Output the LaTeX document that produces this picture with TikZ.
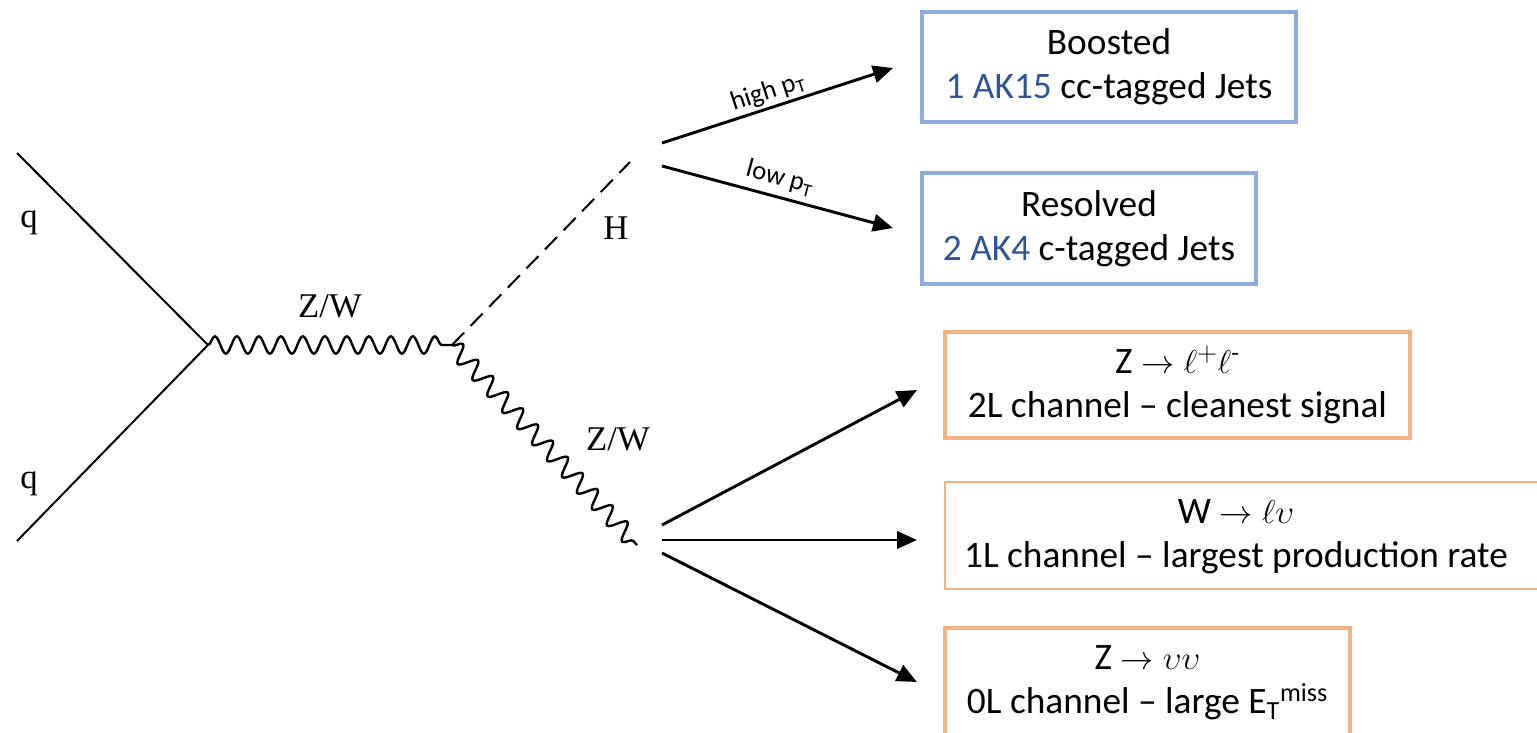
\documentclass[tikz,border=0pt]{standalone}
\usepackage{fontspec}
\setmainfont{Carlito}
\newfontfamily\feynfont{Liberation Serif}
\usetikzlibrary{decorations.pathmorphing,arrows.meta}
\definecolor{boxblue}{HTML}{8FAADC}
\definecolor{textblue}{HTML}{2F5597}
\definecolor{boxorange}{HTML}{F4B183}
\newcommand{\suphyph}{\mbox{\fontsize{19}{20}\selectfont -}}
\begin{document}
\begin{tikzpicture}[x=0.75pt,y=-0.75pt,
  fermion/.style={line width=1.5pt},
  boson/.style={line width=1.8pt, decorate,
    decoration={snake, segment length=16.5pt, amplitude=6.5pt}},
  scalar/.style={line width=1.5pt, dash pattern=on 13pt off 7pt},
  flow/.style={line width=2.2pt, -{Triangle[length=15pt,width=13pt]}},
  chanbox/.style={line width=2.8pt, inner sep=0pt, align=center,
    font=\fontsize{28}{33}\selectfont},
  bluebox/.style={chanbox, draw=boxblue},
  orangebox/.style={chanbox, draw=boxorange},
  chantext/.style={align=center, inner sep=0pt, font=\fontsize{28}{33}\selectfont},
  feyn/.style={inner sep=0pt, font=\feynfont\fontsize{26}{30}\selectfont},
  kin/.style={inner sep=0pt, font=\fontsize{20}{22}\selectfont}]
\useasboundingbox (0,0) rectangle (1537,732);
\clip (0,0) rectangle (1537,732);

% vertices and external legs
\coordinate (qa) at (17,153);
\coordinate (qb) at (17,541);
\coordinate (v1) at (208,345);
\coordinate (v2) at (452,345);
\coordinate (hend) at (630,162);
\coordinate (wend) at (637,545);

\draw[fermion] (qa) -- (v1) -- (qb);
\draw[boson] (v1) -- (v2);
\draw[scalar] (v2) -- (hend);
\draw[boson] (v2) -- (wend);

% particle labels
\node[feyn] (lq1) at (29,223) {q};
\node[feyn] (lq2) at (29,484) {q};
\node[feyn, anchor=base] (lzw1) at (330,317) {Z/W};
\node[feyn, anchor=base] (lh) at (616,239) {H};
\node[feyn, anchor=base] (lzw2) at (618,450) {Z/W};

% Higgs decay categories
\node[bluebox, minimum width=280.5pt, minimum height=82.5pt] (boost) at (1109,67)
  {Boosted\\\textcolor{textblue}{1 AK15} cc-tagged Jets};
\node[bluebox, minimum width=250.5pt, minimum height=83.25pt] (resol) at (1089,228.5)
  {Resolved\\\textcolor{textblue}{2 AK4} c-tagged Jets};

% vector boson decay channels
\node[orangebox, minimum width=348.75pt, minimum height=79.5pt] (two) at (1177.5,385)
  {Z $\rightarrow \ell^{+}\ell^{\suphyph}$\\2L channel -- cleanest signal};
\node[orangebox, line width=1.9pt, minimum width=480pt, minimum height=80.25pt] (one) at (1265,535.5) {};
\node[chantext] (onetext) at (1236,537)
  {W $\rightarrow \ell\upsilon$\\1L channel -- largest production rate};
\node[orangebox, minimum width=303.75pt, minimum height=82.5pt] (zero) at (1147.5,683)
  {Z $\rightarrow \upsilon\upsilon$\\0L channel -- large E\textsubscript{T}\textsuperscript{miss}};

% arrows from the decay vertices
\coordinate (hs1) at (662,143);
\coordinate (hs2) at (662,166);
\coordinate (he1) at (893,68);
\coordinate (he2) at (893,228);
\coordinate (ws1) at (662,525);
\coordinate (ws2) at (662,540);
\coordinate (ws3) at (662,553);
\coordinate (we1) at (917,390);
\coordinate (we2) at (917,540);
\coordinate (we3) at (917,682);

\draw[flow] (hs1) -- (he1);
\draw[flow] (hs2) -- (he2);
\draw[flow] (ws1) -- (we1);
\draw[flow] (ws2) -- (we2);
\draw[flow] (ws3) -- (we3);

\node[kin, rotate=18] (lhigh) at (768,92) {high p\textsubscript{T}};
\node[kin, rotate=-15] (llow) at (780,178) {low p\textsubscript{T}};
\end{tikzpicture}
\end{document}
